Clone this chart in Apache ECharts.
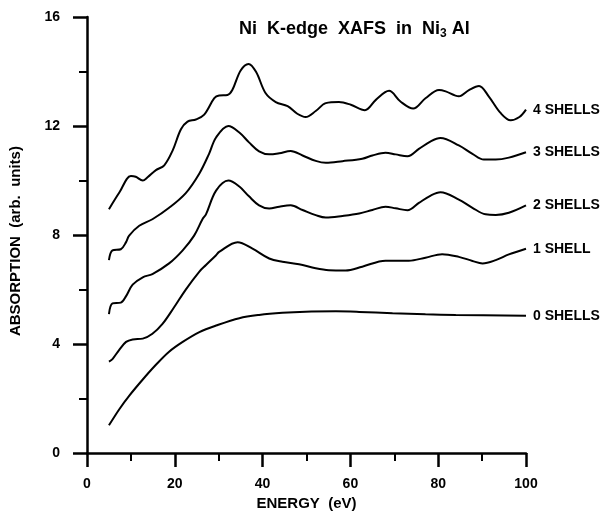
<!DOCTYPE html>
<html>
<head>
<meta charset="utf-8">
<script src="https://cdn.jsdelivr.net/npm/echarts@6/dist/echarts.min.js"></script>
<style>
  html, body { margin: 0; padding: 0; background: #fff; }
  #chart { width: 603px; height: 516px; }
</style>
</head>
<body>
<div id="chart"></div>
<script>
// values, energy (eV) / absorption (arb. units)
const x4 = [5, 7.4, 10.0, 11.1, 12.7, 13.8, 15.7, 17.6, 19.5, 21.4, 22.9, 24.8, 26.7, 29.0, 30.1, 32.0, 33.1, 35.0, 36.8, 38.5, 40.7, 43.0, 45.7, 47.9, 49.8, 52.1, 54.4, 57.4, 60.1, 63.3, 65.8, 68.8, 71.4, 74.3, 77.1, 80.2, 81.7, 84.7, 87.0, 89.3, 91.5, 94.2, 96.5, 98.5, 100];
const y4 = [8.95, 9.57, 10.17, 10.14, 10.0, 10.12, 10.38, 10.56, 11.1, 11.88, 12.16, 12.24, 12.42, 13.02, 13.12, 13.14, 13.32, 14.04, 14.28, 13.99, 13.2, 12.88, 12.73, 12.45, 12.33, 12.55, 12.84, 12.88, 12.78, 12.58, 12.96, 13.29, 12.9, 12.64, 13.02, 13.32, 13.27, 13.09, 13.32, 13.47, 13.09, 12.48, 12.21, 12.33, 12.6];

const x3 = [5, 5.8, 7.7, 8.9, 9.6, 11.9, 14.9, 18.7, 22.5, 25.6, 27.8, 29.4, 32.2, 34.7, 36.9, 39.2, 41.5, 43.8, 46.4, 49.1, 52.1, 54.4, 58.2, 62.7, 65.0, 68.0, 70.3, 73.0, 75.6, 78.3, 80.5, 84.7, 87.8, 90.4, 93.1, 96.1, 100];
const y3 = [7.08, 7.44, 7.48, 7.74, 7.98, 8.34, 8.58, 9.0, 9.54, 10.26, 10.98, 11.58, 12.0, 11.76, 11.4, 11.07, 10.96, 11.0, 11.08, 10.92, 10.72, 10.65, 10.71, 10.8, 10.92, 11.02, 10.96, 10.89, 11.16, 11.44, 11.56, 11.29, 10.98, 10.77, 10.77, 10.84, 11.04];

const x2 = [5, 5.8, 7.7, 8.9, 10.4, 12.7, 14.9, 18.7, 21.8, 24.4, 26.3, 27.1, 29.4, 32.2, 34.7, 36.9, 39.2, 41.5, 43.8, 46.4, 49.1, 52.1, 54.4, 58.2, 62.0, 65.0, 68.0, 70.3, 73.0, 75.6, 78.3, 80.5, 84.7, 87.8, 90.8, 93.1, 96.1, 100];
const y2 = [5.1, 5.49, 5.52, 5.76, 6.18, 6.45, 6.57, 6.96, 7.44, 7.98, 8.58, 8.76, 9.63, 10.0, 9.78, 9.42, 9.09, 8.97, 9.04, 9.09, 8.92, 8.73, 8.64, 8.7, 8.79, 8.92, 9.04, 8.98, 8.91, 9.18, 9.45, 9.57, 9.3, 9.0, 8.76, 8.74, 8.82, 9.09];

const x1 = [5, 5.8, 7.3, 8.9, 10.4, 12.7, 14.9, 17.2, 19.8, 22.5, 25.6, 27.1, 29.4, 30.1, 34.3, 37.7, 41.5, 44.5, 48.3, 52.1, 55.1, 58.9, 62.7, 68.0, 73.3, 77.1, 80.9, 84.7, 87.8, 90.1, 93.1, 96.1, 100];
const y1 = [3.36, 3.45, 3.78, 4.08, 4.17, 4.2, 4.38, 4.74, 5.34, 6.0, 6.66, 6.9, 7.26, 7.38, 7.74, 7.5, 7.14, 7.02, 6.93, 6.78, 6.71, 6.7, 6.84, 7.06, 7.06, 7.17, 7.3, 7.2, 7.05, 6.96, 7.08, 7.29, 7.5];

const x0 = [5, 7.4, 9.6, 12.7, 15.7, 18.7, 21.8, 25.6, 29.4, 34.7, 39.2, 44.5, 49.8, 56.7, 62.0, 69.6, 77.1, 84.0, 100];
const y0 = [1.02, 1.62, 2.1, 2.7, 3.24, 3.72, 4.08, 4.44, 4.68, 4.95, 5.07, 5.15, 5.19, 5.2, 5.18, 5.13, 5.09, 5.07, 5.04];

const seriesNames = ["4 SHELLS", "3 SHELLS", "2 SHELLS", "1 SHELL", "0 SHELLS"];
const xs = [x4, x3, x2, x1, x0];
const ys = [y4, y3, y2, y1, y0];

const FONT = "Liberation Sans";

var chartDom = document.getElementById("chart");
var myChart = echarts.init(chartDom);
var option;

option = {
  animation: false,
  backgroundColor: "#fff",
  title: {
    text: "{a|Ni  K-edge  XAFS  in  Ni}{s|3}{a| Al}",
    left: 234,
    top: 13,
    textStyle: {
      rich: {
        a: { fontFamily: FONT, fontSize: 18, color: "#000" },
        s: { fontFamily: FONT, fontSize: 12, color: "#000", padding: [10, 0, 0, 0] },
      },
    },
  },
  grid: {
    left: 86,
    right: 77,
    top: 17,
    bottom: 54,
  },
  xAxis: {
    type: "value",
    min: 0,
    max: 100,
    interval: 20,
    name: "ENERGY  (eV)",
    nameLocation: "middle",
    nameGap: 37,
    nameTextStyle: { fontFamily: FONT, fontSize: 15, fontWeight: "bold", color: "#000" },
    axisLine: { lineStyle: { color: "#000", width: 2.5 } },
    axisTick: { length: 14, lineStyle: { color: "#000", width: 2.5 } },
    minorTick: { show: true, splitNumber: 2, length: 8, lineStyle: { color: "#000", width: 2 } },
    axisLabel: { margin: 24, fontFamily: FONT, fontSize: 14, fontWeight: "bold", color: "#000" },
    splitLine: { show: false },
  },
  yAxis: {
    type: "value",
    min: 0,
    max: 16,
    interval: 4,
    name: "ABSORPTION  (arb.  units)",
    nameLocation: "middle",
    nameGap: 64,
    nameTextStyle: { fontFamily: FONT, fontSize: 15, fontWeight: "bold", color: "#000", padding: [0, 12, 0, 0] },
    axisLine: { lineStyle: { color: "#000", width: 2.5 } },
    axisTick: { length: 14, lineStyle: { color: "#000", width: 2.5 } },
    minorTick: { show: true, splitNumber: 2, length: 8, lineStyle: { color: "#000", width: 2 } },
    axisLabel: { margin: 27, fontFamily: FONT, fontSize: 14, fontWeight: "bold", color: "#000" },
    splitLine: { show: false },
  },
  series: seriesNames.map((name, i) => ({
    name: name,
    type: "line",
    smooth: 0.35,
    symbol: "none",
    lineStyle: { color: "#000", width: 2 },
    data: xs[i].map((x, j) => [x, ys[i][j]]),
    endLabel: {
      show: true,
      formatter: "{a}",
      distance: 7,
      fontFamily: FONT,
      fontSize: 14,
      fontWeight: "bold",
      color: "#000",
    },
  })),
};

option && myChart.setOption(option);
</script>
</body>
</html>
